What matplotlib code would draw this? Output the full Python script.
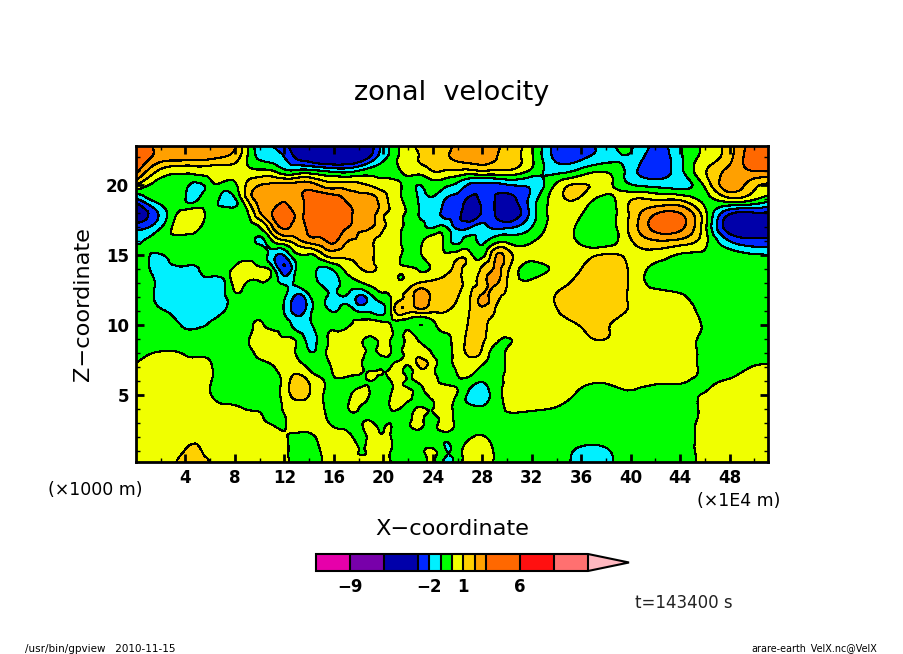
import matplotlib
matplotlib.use('Agg')
import numpy as np
import matplotlib.pyplot as plt
import matplotlib.tri as mtri

W, H = 904, 654

# grid (x in 1E4 m, z in 1000 m)
x_coord = [0, 2, 4, 5, 6, 7, 8, 9, 10, 11, 12, 13, 14, 15, 16, 17, 18, 19, 20, 20.6, 21, 22, 23, 24, 25, 26, 27,
           28, 29, 30, 32, 34, 36, 38, 40, 42, 44, 46, 48, 50, 51.1]
z_coord = [22.8, 22, 21, 20, 19, 18, 17, 16, 15, 14, 13, 12, 11, 10, 9, 8, 7, 6, 5, 4, 3, 2, 1, 0.2]

vel_x = [
    [5, 2.5, 2.5, 2.5, 2.5, 2.5, 2.2, 0, -1.5, -2, -2.7, -3.5, -4, -4.5, -4.5, -4.5, -4.5, -3.5, -1.5, -.9, -.3, .5, 1.3, 1.5, 1.5, 2.5, 2.5, 2.5, 2.2, 1.8, .2, -2.5, -2.5, -1.5, -.9, -2.2, -1, .2, 1.6, 3.5, 3.8],
    [4.5, 2.5, 2.5, 2.4, 2.3, 2, 1.5, 0, -1.2, -1.5, -2, -3.2, -3.8, -4.5, -4.5, -4.5, -4, -2.8, -1.3, -.7, -.2, .5, 1.1, 1.5, 1.8, 2.3, 2.5, 2.5, 2.1, 1.7, .1, -2.3, -2.2, -1.5, -1.2, -2.5, -1.2, .3, 1.7, 3.8, 4],
    [3.3, .7, .2, .4, .4, .4, .5, .3, .2, .1, -.7, -.7, -.6, -.9, -1.2, -1.3, -.9, -.5, -.4, -.3, -.2, .3, .4, 1, .9, .8, .7, .9, .8, .8, -.3, -1.3, -.6, -.1, -1.5, -2.6, -1.3, .9, 2.3, 3, 3],
    [1, -.3, -.7, -1.3, -.4, -.3, -.2, 1.2, 2, 2.2, 2.3, 2.4, 2.5, 1.8, 1.5, 1.5, 1.3, .9, .5, .35, .2, -.4, -1, -.5, -.8, -1.3, -2.2, -2.4, -2.4, -2.1, -1.8, .2, 1.1, .4, -.9, -1.3, -1.4, .2, 2.5, 1.3, .8],
    [-2.2, -.4, -1, -1.05, -.3, -1.4, -1.1, 1.1, 2.3, 2.4, 2.9, 2.7, 3.4, 3.8, 3.6, 2.8, 2.2, 2.3, 1.4, .7, .3, -.3, -1.1, -1.1, -2, -2.4, -3.2, -2.8, -3, -3.3, -1.6, .6, .8, -.3, .9, .9, .8, -.2, .7, .1, -.5],
    [-4, -1.7, .5, .5, -.3, -.3, -.3, -.1, 1.9, 3, 3.8, 2.8, 3.6, 4.2, 4.5, 3.9, 2.4, 2.4, 1.2, .8, .5, -.2, -1.1, -1.3, -2.3, -2.6, -3.8, -2.8, -3, -3.8, -1.6, .5, .1, -.6, 1.2, 2.9, 3, .3, -2.8, -3.1, -3.1],
    [-2.4, -1.1, .7, .2, -.3, -.3, -.3, -.2, 0, 1.9, 3.2, 2.6, 3.3, 3.6, 3.6, 3.2, 2.3, 2.1, 1.1, .7, .4, -.2, -.6, -1.1, -.9, -2.3, -2.1, -1.7, -2.2, -2.2, -1, .4, -.3, -.6, 1.3, 3.4, 3.3, .3, -3.7, -3.7, -3.7],
    [-1.2, -.5, -.4, -.4, -.3, -.3, -.3, -.3, -1.2, -.1, .8, 1.6, 2.4, 2.7, 3.2, 2.1, 1.9, 1.2, .7, .5, .3, -.4, -.2, .7, -.3, -1.2, -.6, -1.2, -.4, -.2, -.1, .4, -.2, -.6, .9, 1.9, 1.7, .3, -2, -2.7, -2.7],
    [-.3, -1.05, -.3, -.3, -.3, -.3, -.3, -.1, -.4, -1.5, -1.9, -.2, -.1, .7, 1.4, 1.2, 1.4, 1.2, .5, .4, .3, -.4, -.1, .4, .1, .6, .3, -.3, 1.8, 1.6, .3, .3, .6, 1.1, .8, .5, -.1, -.2, -.5, -.9, -1],
    [-.3, -1.2, -1.1, -1.05, -.4, -.5, .3, .7, .3, -.5, -2.8, -.8, -.4, -1.2, -.8, .3, .9, 1.1, .8, .5, .2, .1, -.1, .1, .6, 1.1, .7, 1.2, 2.1, 1.3, -.3, .2, 1, 1.5, .85, -.3, -.4, -.5, -.5, -.5, -.5],
    [-.3, -1.15, -1.5, -1.5, -1.5, -1.3, .3, -.1, -.1, -.4, -1.2, -.8, -.4, -1.2, -1.4, -.6, -.2, .3, .4, .3, .2, .4, 1.1, 1.3, 1.5, 1.3, .8, 1.5, 2.2, 1, .2, .7, 1.3, 1.6, .85, -.4, -.5, -.5, -.5, -.5, -.5],
    [-.3, -1.2, -1.5, -1.5, -1.6, -1.3, -.3, -.4, -.3, -.4, -.9, -2.3, -1.2, -.5, -1.3, -1.1, -2.2, -1.3, -.4, 0, .6, 1.3, 2.8, 1.6, 1.6, 1.05, .95, 2.2, 1.4, .8, .5, 1.05, 1.4, 1.7, .85, .5, .2, -.5, -.5, -.5, -.5],
    [-.3, -.9, -1.3, -1.4, -1.4, -1.1, -.4, -.4, -.3, -.4, -1.1, -2.4, -1.4, -.4, -1.1, -.4, -1.1, -1.2, -1.2, 0, 1.2, 1.4, 1.5, 1.2, 1.1, .6, 1.05, 1.8, 1, .5, .5, .95, 1.4, 1.5, .85, .5, .5, -.3, -.5, -.5, -.5],
    [-.5, -.5, -1.1, -1.1, -.9, -.5, -.5, -.3, .1, -.2, -.4, -1.4, -1.2, -.4, -.3, -.2, .4, .4, .3, 0, -.3, -.3, -1, -.3, .3, .4, 1.2, 1.4, .4, .5, .5, .6, 1.05, 1.1, .5, .5, .5, -.1, -.5, -.5, -.5],
    [-.6, -.6, -.6, -.6, -.5, -.5, -.5, -.1, .5, .5, .1, -.2, -1.3, -.5, .1, .2, .5, -.3, .5, 0, -.4, .3, -.3, -.5, -.2, .4, 1.3, 1.2, .3, -.05, .5, .5, .8, 1, .5, .5, .5, -.25, -.5, -.5, -.5],
    [-.5, .1, -.1, -.2, -.2, -.5, -.5, -.3, .3, .7, .5, -.1, -.9, -.5, .5, .6, .6, -.3, .3, 0, -.3, .5, .8, -.1, -.3, .4, 1.2, .8, -.3, .1, .5, .5, .5, .5, .5, .5, .5, -.25, -.5, -.5, -.5],
    [.2, .5, .3, .4, .1, -.5, -.6, -.5, -.3, -.1, .5, .5, -.2, -.6, .2, .5, .2, -.2, -.1, 0, .3, -.1, 1.1, .3, -.3, .2, .5, -.15, -.4, .1, .5, .5, .5, .5, .5, .5, .5, -.25, -.4, .05, .1],
    [.5, .5, .5, .5, .1, -.6, -.5, -.5, -.4, -.5, .4, 1.4, .9, .1, -.1, -.2, -.2, 0, -.3, 0, .3, -.1, .3, .3, -.2, -.1, -.4, -.9, -.4, .1, .5, .5, .2, .1, .2, .1, .05, -.1, .1, .3, .3],
    [.5, .5, .5, .5, .05, -.3, -.5, -.5, -.5, -.4, .4, 1.4, 1, .1, -.4, -.3, .3, -.1, -.4, 0, .3, .2, -.2, .3, .5, -.1, -1.3, -1.6, -.5, .1, .5, .5, -.2, -.3, -.1, -.2, -.1, .05, .5, .5, .5],
    [.5, .5, .5, .5, .5, .2, .2, -.05, -.1, -.3, .1, .5, .4, .2, -.5, -.1, 0, -.5, -.5, 0, .1, -.2, .1, 0, .5, -.4, -.7, -.8, -.4, .05, .1, -.1, -.5, -.5, -.5, -.5, -.5, .2, .5, .5, .5],
    [.5, .5, .5, .5, .5, .5, .5, .5, .2, -.1, -.1, .5, .5, .3, -.2, -.3, -.2, .1, -.2, -.05, -.4, -.2, .2, -.3, .5, -.4, -.6, -.6, -.5, -.5, -.5, -.5, -.5, -.5, -.5, -.5, -.5, .3, .5, .5, .5],
    [.5, .5, .7, .7, .5, .5, .5, .5, .5, .5, .1, -.2, -.2, .2, .3, .2, -.1, .1, .1, 0, -.5, -.6, -.6, -.6, -.6, -.3, -.1, .1, -.4, -.6, -.5, -.5, -.6, -.6, -.5, -.5, -.5, .35, .5, .5, .5],
    [.5, .5, 1.05, 1.2, .5, .5, .5, .5, .5, .5, .2, -.4, -.4, .05, .4, .3, 0, .1, .3, 0, -.4, -.6, -.3, .2, -.9, -.4, .4, .5, -.1, -.6, -.5, -.5, -1.2, -1.1, -.5, -.5, -.5, .35, .5, .5, .5],
    [.5, .5, 1.4, 1.5, 1, .5, .5, .5, .5, .5, .3, -.5, -.5, 0, .3, .1, .1, .1, .2, 0, -.5, -.6, -.5, .2, -1.3, -.3, .4, .5, -.1, -.6, -.5, -.5, -1.4, -1.2, -.5, -.5, -.6, .4, .5, .5, .5],
]

levels = [-12, -9, -6, -3, -2, -1, 0, 1, 2, 3, 6, 9, 12]
band_colors = ['#e600aa', '#7800aa', '#0000aa', '#0028ff', '#00f0ff', '#00ff00', '#f0ff00',
               '#ffd000', '#ffa000', '#ff6800', '#ff1010', '#ff7070']
over_color = '#ffb8c0'
x_ticks = [4, 8, 12, 16, 20, 24, 28, 32, 36, 40, 44, 48]
z_ticks = [5, 10, 15, 20]
cbar_ticks = [-9, -2, 1, 6]


def px_box(left, top, right, bottom):
    return [left / W, 1 - bottom / H, (right - left) / W, (bottom - top) / H]


fig = plt.figure(figsize=(W / 100, H / 100), dpi=100)
ax = fig.add_axes(px_box(136, 146, 768, 462))

# smoother contour outlines on the read grid
xx, zz = np.meshgrid(x_coord, z_coord)
triang = mtri.Triangulation(xx.ravel(), zz.ravel())
refiner = mtri.UniformTriRefiner(triang)
tri_fine, vel_fine = refiner.refine_field(np.array(vel_x).ravel(), subdiv=3)

cf = ax.tricontourf(tri_fine, vel_fine, levels=levels, colors=band_colors,
                    extend='max', antialiased=False)
cf.cmap.set_over(over_color)
ax.tricontour(tri_fine, vel_fine, levels=levels, colors='k', linewidths=0.8,
              linestyles='solid', antialiased=False)

ax.set_xlim(0, 51.1)
ax.set_ylim(0.2, 22.8)
ax.set_xticks(x_ticks)
ax.set_yticks(z_ticks)
ax.set_xticks(np.arange(2, 51, 4), minor=True)
ax.set_yticks([z for z in range(1, 23) if z % 5], minor=True)
ax.tick_params(which='major', direction='in', length=6, width=2, top=True, right=True,
               labelsize=12, pad=5)
ax.tick_params(which='minor', direction='in', length=3, width=1, top=True, right=True)
for lab in ax.get_xticklabels() + ax.get_yticklabels():
    lab.set_fontweight('bold')
for side in ax.spines.values():
    side.set_linewidth(2)

# colour bar
cax = fig.add_axes(px_box(316, 554, 629, 571))
cb = fig.colorbar(cf, cax=cax, orientation='horizontal', spacing='proportional',
                  extendfrac=41 / 272, drawedges=True, ticks=cbar_ticks)
cb.outline.set_linewidth(1.5)
cb.dividers.set_linewidth(1.5)
cb.dividers.set_color('k')
cax.tick_params(length=0, labelsize=12, pad=5)
for lab in cax.get_xticklabels():
    lab.set_fontweight('bold')


def px_text(px, py, s, **kw):
    fig.text(px / W, 1 - py / H, s, ha=kw.pop('ha', 'center'), va='center', **kw)


px_text(452, 93, 'zonal  velocity', fontsize=19.5)
px_text(95, 490, '(×1000 m)', fontsize=12.5)
px_text(739, 501, '(×1E4 m)', fontsize=12.5)
px_text(452, 529, 'X−coordinate', fontsize=16.2)
px_text(83, 304, 'Z−coordinate', fontsize=16.2, rotation=90)
px_text(684, 603, 't=143400 s', fontsize=12, color='#222222')
px_text(25, 649, '/usr/bin/gpview   2010-11-15', fontsize=7.5, ha='left')
px_text(877, 649, 'arare-earth_VelX.nc@VelX', fontsize=6.9, ha='right')

fig.savefig('out.png', dpi=100)
